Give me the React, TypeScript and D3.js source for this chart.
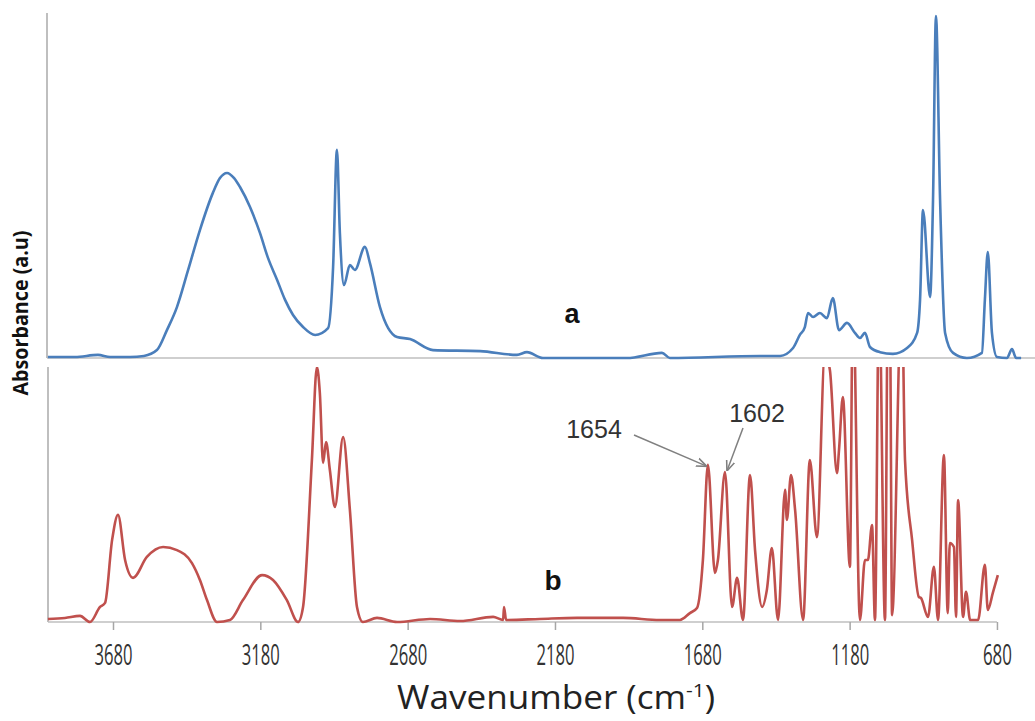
import React, { useEffect, useRef } from 'react';
import * as d3 from 'd3';

// spectrum a (blue, top panel)
const wavenumberA = [3901, 3809, 3731, 3690, 3622, 3575, 3531, 3497, 3463, 3425, 3385, 3341, 3317, 3293, 3269, 3249, 3215, 3181, 3154, 3123, 3096, 3069, 3035, 2994, 2950, 2933, 2920, 2910, 2896, 2876, 2859, 2825, 2808, 2774, 2716, 2672, 2594, 2434, 2309, 2275, 2221, 1936, 1817, 1790, 1484, 1416, 1372, 1349, 1332, 1321, 1304, 1281, 1257, 1237, 1216, 1189, 1162, 1145, 1128, 1111, 1077, 1033, 985, 951, 941, 931, 907, 897, 887, 873, 856, 829, 782, 731, 721, 711, 697, 680, 646, 629, 615, 598];
const absorbanceA = [0.003, 0.003, 0.009, 0.003, 0.003, 0.006, 0.023, 0.081, 0.148, 0.256, 0.372, 0.48, 0.523, 0.538, 0.523, 0.497, 0.439, 0.363, 0.291, 0.227, 0.169, 0.125, 0.09, 0.067, 0.087, 0.265, 0.605, 0.363, 0.212, 0.27, 0.256, 0.323, 0.276, 0.148, 0.061, 0.055, 0.023, 0.02, 0.009, 0.017, 0, 0, 0.015, 0, 0.006, 0.006, 0.029, 0.067, 0.09, 0.131, 0.119, 0.131, 0.116, 0.174, 0.081, 0.102, 0.073, 0.058, 0.073, 0.032, 0.017, 0.012, 0.029, 0.073, 0.169, 0.43, 0.177, 0.459, 0.994, 0.459, 0.073, 0.015, 0, 0.015, 0.169, 0.308, 0.073, 0.003, 0, 0.026, 0, 0];

// spectrum b (red, bottom panel) - values above 1 run off the panel
const wavenumberB = [3901, 3843, 3792, 3758, 3724, 3707, 3683, 3663, 3639, 3612, 3565, 3510, 3463, 3412, 3385, 3361, 3327, 3283, 3239, 3174, 3137, 3090, 3052, 3035, 3005, 2988, 2978, 2967, 2957, 2944, 2927, 2899, 2876, 2852, 2832, 2784, 2716, 2604, 2502, 2390, 2356, 2353, 2346, 2231, 2105, 1949, 1824, 1756, 1722, 1698, 1678, 1661, 1637, 1627, 1603, 1579, 1562, 1542, 1518, 1501, 1477, 1461, 1444, 1423, 1399, 1393, 1379, 1365, 1338, 1315, 1291, 1264, 1247, 1223, 1216, 1203, 1179, 1169, 1145, 1128, 1118, 1104, 1094, 1080, 1060, 1050, 1043, 1036, 1003, 992, 968, 945, 938, 914, 894, 880, 860, 847, 840, 826, 819, 812, 795, 785, 771, 744, 721, 711, 694, 677];
const absorbanceB = [0.012, 0.016, 0.024, 0, 0.059, 0.075, 0.322, 0.42, 0.243, 0.173, 0.255, 0.294, 0.282, 0.231, 0.165, 0.086, 0, 0.008, 0.086, 0.184, 0.165, 0.086, 0, 0.059, 0.635, 1.0, 0.898, 0.624, 0.706, 0.596, 0.451, 0.725, 0.439, 0.059, 0, 0.016, 0, 0.012, 0.004, 0.02, 0.008, 0.059, 0.008, 0.012, 0.016, 0.016, 0.008, 0.008, 0.035, 0.055, 0.243, 0.616, 0.192, 0.243, 0.588, 0.059, 0.173, 0.008, 0.576, 0.282, 0.059, 0.125, 0.29, 0.008, 0.518, 0.4, 0.576, 0.439, 0.008, 0.635, 0.333, 1.05, 0.988, 0.584, 0.675, 0.882, 0.216, 1.3, 0.008, 0.243, 0.243, 0.38, 0.008, 1.3, 0.008, 1.3, 1.2, 0.027, 1.3, 0.635, 0.322, 0.098, 0.094, 0.02, 0.216, 0.008, 0.655, 0.035, 0.31, 0.294, 0.02, 0.478, 0.02, 0.118, 0.008, 0.008, 0.224, 0.047, 0.114, 0.184];

const tickValues = [3680, 3180, 2680, 2180, 1680, 1180, 680];
const peakNotes = [
  { wn: 1654, abs: 0.616, label: '1654' },
  { wn: 1602, abs: 0.588, label: '1602' },
];

const W = 1035;
const H = 721;

export default function App() {
  const axisRef = useRef<SVGGElement>(null);

  const x = d3.scaleLinear().domain([3904, 595]).range([47, 1022]);
  const yA = d3.scaleLinear().domain([0, 1]).range([358, 14]);
  const yB = d3.scaleLinear().domain([0, 1]).range([622, 367]);

  const lineA = d3.line<number>()
    .x((d, i) => x(wavenumberA[i]))
    .y(d => yA(d))
    .curve(d3.curveMonotoneX);
  const lineB = d3.line<number>()
    .x((d, i) => x(wavenumberB[i]))
    .y(d => yB(d))
    .curve(d3.curveMonotoneX);

  useEffect(() => {
    const g = d3.select(axisRef.current);
    g.selectAll('*').remove();
    g.call(
      d3.axisBottom(x)
        .tickValues(tickValues)
        .tickSize(8)
        .tickSizeOuter(0)
        .tickPadding(12)
        .tickFormat(d => String(d))
    );
    g.select('.domain').remove();
    g.selectAll('.tick line').attr('stroke', '#a6a6a6').attr('stroke-width', 1.5);
    g.selectAll('.tick text')
      .attr('fill', '#333')
      .attr('font-family', 'Open Sans, sans-serif')
      .attr('font-size', 29)
      .attr('dy', '0.8em')
      .attr('textLength', (d: any) => (String(d).length === 3 ? 29 : 38))
      .attr('lengthAdjust', 'spacingAndGlyphs');
  }, []);

  const tip = (n: typeof peakNotes[0]) => [x(n.wn), yB(n.abs)];

  return (
    <svg width={W} height={H} style={{ position: 'absolute', left: 0, top: 0, background: '#fff' }}>
      <defs>
        <clipPath id="clipB">
          <rect x={47} y={367} width={980} height={260} />
        </clipPath>
        <marker id="arrow" viewBox="0 0 10 10" refX={9} refY={5} markerWidth={7} markerHeight={7} orient="auto">
          <path d="M0,1 L10,5 L0,9" fill="none" stroke="#808080" strokeWidth={1.5} />
        </marker>
      </defs>

      {/* top panel frame */}
      <line x1={47} y1={13} x2={47} y2={358} stroke="#bfbfbf" strokeWidth={2} />
      <line x1={47} y1={358} x2={1035} y2={358} stroke="#bfbfbf" strokeWidth={1.5} />
      <path d={lineA(absorbanceA) || ''} fill="none" stroke="#4a7ebb" strokeWidth={2.6} strokeLinejoin="round" />
      <text x={572} y={323} textAnchor="middle" fontFamily="Liberation Sans, Arial, sans-serif" fontWeight="bold" fontSize={27} fill="#111">a</text>

      {/* bottom panel */}
      <line x1={48} y1={367} x2={48} y2={622} stroke="#bfbfbf" strokeWidth={2} />
      <line x1={48} y1={622} x2={x(680)} y2={622} stroke="#bfbfbf" strokeWidth={1.5} />
      <g ref={axisRef} transform="translate(0,622)" />
      <path d={lineB(absorbanceB) || ''} fill="none" stroke="#c0504d" strokeWidth={2.6} strokeLinejoin="round" clipPath="url(#clipB)" />
      <text x={553} y={590} textAnchor="middle" fontFamily="Liberation Sans, Arial, sans-serif" fontWeight="bold" fontSize={28} fill="#111">b</text>

      {/* peak annotations */}
      <text x={594} y={438} textAnchor="middle" fontFamily="Liberation Sans, Arial, sans-serif" fontSize={25} fill="#333">{peakNotes[0].label}</text>
      <line x1={634} y1={435} x2={tip(peakNotes[0])[0] - 4} y2={tip(peakNotes[0])[1] + 1} stroke="#808080" strokeWidth={1.5} markerEnd="url(#arrow)" />
      <text x={757} y={422} textAnchor="middle" fontFamily="Liberation Sans, Arial, sans-serif" fontSize={25} fill="#333">{peakNotes[1].label}</text>
      <line x1={743} y1={428} x2={tip(peakNotes[1])[0] + 2} y2={tip(peakNotes[1])[1] - 2} stroke="#808080" strokeWidth={1.5} markerEnd="url(#arrow)" />

      {/* axis titles */}
      <text x={556} y={709} textAnchor="middle" fontFamily="Open Sans, sans-serif" fontSize={32} fill="#222" textLength={318} lengthAdjust="spacingAndGlyphs">
        Wavenumber (cm<tspan dy={-12} fontSize={19}>-1</tspan><tspan dy={12}>)</tspan>
      </text>
      <text transform="translate(28,313) rotate(-90)" textAnchor="middle" fontFamily="Open Sans, sans-serif" fontWeight="bold" fontSize={21} fill="#111" textLength={165} lengthAdjust="spacingAndGlyphs">
        Absorbance (a.u)
      </text>
    </svg>
  );
}
